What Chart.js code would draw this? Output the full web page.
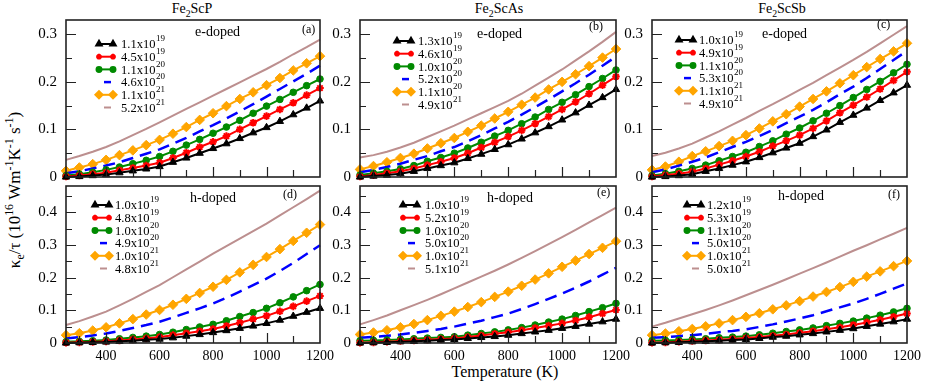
<!DOCTYPE html>
<html lang="en">
<head>
<meta charset="UTF-8">
<title>Electronic thermal conductivity of Fe2ScX</title>
<script src="https://cdn.jsdelivr.net/npm/chart.js"></script>
<style>
  body { margin: 0; background: #fff; }
  #fig { position: relative; width: 926px; height: 382px; overflow: hidden;
         font-family: "Liberation Serif", "Times New Roman", serif; color: #000; }
  #fig canvas { position: absolute; }
  .txt { position: absolute; white-space: nowrap; transform: translate(-50%, -50%); line-height: 1; }
  .txt sub, .txt sup { font-size: 70%; line-height: 0; }
  .ttl { font-size: 14px; top: 9px; }
</style>
</head>
<body>
<div id="fig">
  <div class="txt ttl" style="left:192px">Fe<sub>2</sub>ScP</div>
  <div class="txt ttl" style="left:499px">Fe<sub>2</sub>ScAs</div>
  <div class="txt ttl" style="left:782px">Fe<sub>2</sub>ScSb</div>
  <div class="txt" style="left:14px; top:190px; font-size:17px; transform: translate(-50%,-50%) rotate(-90deg);">
    κ<sub>e</sub>/τ (10<sup>16</sup> Wm<sup>-1</sup>K<sup>-1</sup> s<sup>-1</sup>)</div>
  <div class="txt" style="left:505px; top:372px; font-size:16px;">Temperature (K)</div>
  <canvas id="pa"></canvas><canvas id="pb"></canvas><canvas id="pc"></canvas>
  <canvas id="pd"></canvas><canvas id="pe"></canvas><canvas id="pf"></canvas>
</div>

<script>
// temperatures (K) shared by every curve
const temps = [250,300,350,400,450,500,550,600,650,700,750,800,850,900,950,1000,1050,1100,1150,1200];
const xTicks = [400, 600, 800, 1000, 1200];
const yTicksTop = [0, 0.1, 0.2, 0.3];
const yTicksBottom = [0, 0.1, 0.2, 0.3, 0.4];

// (a) Fe2ScP, e-doped
const aLabels = ['1.1x10^19','4.5x10^19','1.1x10^20','4.6x10^20','1.1x10^21','5.2x10^21'];
const aBlack  = [0,.001,.003,.005,.009,.013,.017,.022,.031,.040,.050,.060,.070,.081,.093,.104,.117,.131,.145,.160];
const aRed    = [.001,.003,.006,.009,.014,.019,.024,.030,.040,.051,.063,.074,.086,.100,.114,.128,.142,.156,.172,.187];
const aGreen  = [.003,.006,.010,.015,.021,.028,.035,.043,.054,.067,.079,.092,.105,.119,.134,.149,.163,.178,.192,.206];
const aBlue   = [.008,.012,.018,.024,.031,.040,.049,.058,.070,.082,.096,.109,.123,.138,.153,.169,.185,.201,.217,.234];
const aOrange = [.013,.020,.027,.036,.046,.056,.067,.078,.091,.105,.120,.134,.149,.164,.178,.193,.208,.224,.239,.254];
const aBrown  = [.036,.044,.053,.063,.075,.088,.101,.115,.129,.143,.157,.171,.185,.199,.213,.227,.242,.258,.273,.289];

// (b) Fe2ScAs, e-doped
const bLabels = ['1.3x10^19','4.6x10^19','1.0x10^20','5.2x10^20','1.1x10^20','4.9x10^21'];
const bBlack  = [0,.002,.004,.007,.012,.018,.024,.030,.039,.048,.058,.068,.080,.093,.106,.120,.135,.151,.167,.184];
const bRed    = [.001,.004,.008,.012,.018,.025,.032,.040,.050,.062,.073,.085,.098,.112,.127,.142,.158,.175,.193,.211];
const bGreen  = [.004,.008,.012,.017,.024,.033,.041,.050,.061,.073,.086,.098,.112,.126,.142,.157,.173,.190,.207,.225];
const bBlue   = [.010,.015,.021,.028,.036,.044,.054,.063,.075,.088,.102,.116,.131,.147,.163,.180,.197,.215,.234,.253];
const bOrange = [.016,.023,.031,.040,.049,.060,.071,.082,.095,.108,.123,.137,.152,.167,.184,.200,.216,.233,.251,.269];
const bBrown  = [.041,.046,.053,.062,.072,.084,.096,.108,.121,.134,.147,.160,.175,.192,.209,.226,.245,.264,.284,.305];

// (c) Fe2ScSb, e-doped
const cLabels = ['1.0x10^19','4.9x10^19','1.1x10^20','5.3x10^20','1.1x10^21','4.9x10^21'];
const cBlack  = [0,.001,.003,.006,.012,.018,.025,.032,.041,.051,.061,.071,.085,.099,.115,.130,.145,.161,.177,.193];
const cRed    = [.001,.004,.007,.011,.018,.026,.034,.043,.053,.065,.076,.088,.102,.118,.135,.151,.168,.185,.203,.221];
const cGreen  = [.003,.007,.012,.018,.025,.034,.043,.052,.064,.076,.090,.103,.118,.134,.150,.167,.184,.201,.219,.237];
const cBlue   = [.010,.016,.024,.032,.041,.052,.063,.074,.086,.099,.113,.127,.141,.157,.174,.190,.208,.227,.246,.265];
const cOrange = [.015,.022,.032,.044,.054,.065,.076,.088,.102,.117,.132,.148,.164,.180,.197,.214,.231,.248,.264,.281];
const cBrown  = [.044,.051,.060,.070,.083,.096,.110,.124,.139,.153,.168,.183,.198,.214,.230,.246,.263,.281,.299,.317];

// (d) Fe2ScP, h-doped
const dLabels = ['1.0x10^19','4.8x10^19','1.0x10^20','4.9x10^20','1.0x10^21','4.8x10^21'];
const dBlack  = [0,.001,.002,.003,.005,.007,.010,.012,.016,.021,.026,.032,.038,.045,.052,.060,.070,.082,.094,.106];
const dRed    = [.001,.002,.003,.005,.008,.011,.014,.018,.024,.030,.036,.043,.052,.062,.073,.083,.097,.112,.128,.144];
const dGreen  = [.004,.005,.007,.009,.013,.017,.021,.026,.033,.041,.049,.057,.068,.081,.093,.106,.123,.141,.160,.179];
const dBlue   = [.014,.018,.023,.029,.037,.046,.055,.065,.078,.092,.106,.121,.138,.157,.177,.197,.220,.245,.272,.299];
const dOrange = [.024,.030,.038,.048,.060,.073,.087,.101,.117,.135,.153,.172,.193,.216,.239,.263,.287,.312,.337,.362];
const dBrown  = [.055,.067,.081,.096,.115,.135,.156,.177,.201,.225,.249,.273,.296,.319,.342,.365,.390,.415,.440,.466];

// (e) Fe2ScAs, h-doped
const eLabels = ['1.0x10^19','5.2x10^19','1.0x10^20','5.0x10^20','1.0x10^21','5.1x10^21'];
const eBlack  = [0,.001,.002,.004,.005,.007,.009,.011,.014,.017,.020,.024,.029,.034,.039,.045,.051,.058,.065,.073];
const eRed    = [.001,.002,.004,.006,.008,.010,.012,.014,.018,.023,.028,.033,.039,.046,.053,.060,.069,.079,.090,.101];
const eGreen  = [.007,.008,.009,.011,.013,.015,.017,.019,.024,.029,.034,.040,.047,.055,.064,.073,.084,.096,.108,.121];
const eBlue   = [.016,.019,.022,.026,.031,.037,.043,.050,.059,.068,.079,.090,.104,.119,.135,.151,.169,.188,.209,.230];
const eOrange = [.026,.032,.039,.048,.058,.070,.083,.096,.110,.125,.141,.157,.175,.194,.213,.233,.252,.272,.291,.311];
const eBrown  = [.057,.070,.084,.100,.116,.132,.149,.167,.185,.203,.221,.240,.260,.281,.302,.324,.346,.369,.391,.414];

// (f) Fe2ScSb, h-doped
const fLabels = ['1.2x10^19','5.3x10^19','1.1x10^20','5.0x10^20','1.0x10^21','5.0x10^21'];
const fBlack  = [0,.001,.002,.004,.005,.007,.009,.011,.014,.018,.021,.025,.029,.034,.039,.044,.051,.058,.065,.073];
const fRed    = [.001,.002,.004,.006,.008,.010,.012,.015,.018,.022,.026,.031,.036,.042,.048,.055,.063,.071,.080,.090];
const fGreen  = [.007,.008,.009,.011,.013,.016,.018,.021,.025,.030,.035,.040,.046,.053,.060,.067,.076,.085,.095,.106];
const fBlue   = [.016,.018,.021,.024,.028,.033,.037,.042,.049,.057,.066,.075,.085,.097,.109,.121,.135,.150,.166,.182];
const fOrange = [.024,.029,.036,.043,.051,.060,.070,.080,.091,.103,.115,.128,.142,.156,.171,.187,.203,.219,.235,.251];
const fBrown  = [.050,.062,.075,.088,.101,.115,.130,.146,.162,.178,.195,.212,.229,.246,.264,.282,.299,.317,.334,.352];

// look of the six curves (same in every panel)
const looks = [
  { color: '#000000', point: 'triangle', r: 4.2 },
  { color: '#ff0000', point: 'star',     r: 3.8 },
  { color: '#008a00', point: 'circle',   r: 3.3 },
  { color: '#0000ff', point: null, dash: [12, 7], w: 2.5 },
  { color: '#ffa500', point: 'rectRot',  r: 4.8 },
  { color: '#bc8f8f', point: null, w: 2 }
];

// panel placement: chart area in page pixels, legend / note offsets inside it
const panels = [
  { id: 'pa', series: [aBlack,aRed,aGreen,aBlue,aOrange,aBrown], labels: aLabels, top: true,
    box: [66, 20, 320, 177], leg: [31, 55, 24], note: ['e-doped', 129, 12], tag: ['(a)', 236, 10] },
  { id: 'pb', series: [bBlack,bRed,bGreen,bBlue,bOrange,bBrown], labels: bLabels, top: true,
    box: [360, 20, 616, 177], leg: [35, 58, 21], note: ['e-doped', 117, 14], tag: ['(b)', 229, 7] },
  { id: 'pc', series: [cBlack,cRed,cGreen,cBlue,cOrange,cBrown], labels: cLabels, top: true,
    box: [652, 20, 907, 177], leg: [25, 47, 20], note: ['e-doped', 110, 14], tag: ['(c)', 225, 5] },
  { id: 'pd', series: [dBlack,dRed,dGreen,dBlue,dOrange,dBrown], labels: dLabels, top: false,
    box: [66, 186, 320, 343], leg: [27, 49, 19], note: ['h-doped', 124, 12], tag: ['(d)', 217, 9] },
  { id: 'pe', series: [eBlack,eRed,eGreen,eBlue,eOrange,eBrown], labels: eLabels, top: false,
    box: [360, 186, 616, 343], leg: [41, 65, 19], note: ['h-doped', 127, 12], tag: ['(e)', 237, 7] },
  { id: 'pf', series: [fBlack,fRed,fGreen,fBlue,fOrange,fBrown], labels: fLabels, top: false,
    box: [652, 186, 907, 343], leg: [33, 55, 19], note: ['h-doped', 126, 10], tag: ['(f)', 236, 9] }
];

const SERIF = '"Liberation Serif", "Times New Roman", serif';
const LEFT = 46, RIGHT = 18, TOP = 8;

// frame, inward ticks, legend and notes (xmgrace look)
const decor = {
  id: 'decor',
  afterDatasetsDraw(chart, args, o) {
    const { ctx, chartArea: a, scales: { x, y } } = chart;
    ctx.save();
    ctx.strokeStyle = '#222';
    ctx.lineWidth = 1.2;
    ctx.beginPath();
    for (let t = 300; t < 1200; t += 100) {
      const px = Math.round(x.getPixelForValue(t)) + 0.5;
      const len = t % 200 === 0 ? 10 : 7;
      ctx.moveTo(px, a.bottom); ctx.lineTo(px, a.bottom - len);
    }
    for (let k = 1; k * 0.05 < y.max; k++) {
      const py = Math.round(y.getPixelForValue(k * 0.05)) + 0.5;
      const len = k % 2 === 0 ? 10 : 6;
      ctx.moveTo(a.left, py); ctx.lineTo(a.left + len, py);
    }
    ctx.stroke();
    ctx.lineWidth = 1.6;
    ctx.strokeRect(a.left, a.top, a.right - a.left, a.bottom - a.top);
    ctx.restore();
  },
  afterDraw(chart, args, o) {
    const { ctx, chartArea: a } = chart;
    ctx.save();
    o.labels.forEach((lab, k) => {
      const s = looks[k];
      const yy = a.top + o.leg[2] + k * 12.7;
      const x0 = a.left + o.leg[0], x1 = x0 + 18;
      ctx.strokeStyle = s.color; ctx.fillStyle = s.color;
      if (s.point) {
        ctx.lineWidth = 2;
        ctx.beginPath(); ctx.moveTo(x0, yy); ctx.lineTo(x1, yy); ctx.stroke();
        const opt = { pointStyle: s.point, radius: s.r * 0.75, borderWidth: s.point === 'star' ? 2 : 1, rotation: 0 };
        Chart.helpers.drawPoint(ctx, opt, x0 + 2, yy);
        Chart.helpers.drawPoint(ctx, opt, x1 - 2, yy);
      } else {
        ctx.lineWidth = s.w;
        const xm = (x0 + x1) / 2 + 1;
        ctx.beginPath(); ctx.moveTo(xm - 3, yy); ctx.lineTo(xm + 4, yy); ctx.stroke();
      }
      const [base, exp] = lab.split('^');
      ctx.fillStyle = '#000';
      ctx.textAlign = 'left'; ctx.textBaseline = 'middle';
      ctx.font = '12.5px ' + SERIF;
      ctx.fillText(base, a.left + o.leg[1], yy + 1);
      const w = ctx.measureText(base).width;
      ctx.font = '9px ' + SERIF;
      ctx.fillText(exp, a.left + o.leg[1] + w + 0.5, yy - 5);
    });
    ctx.fillStyle = '#000';
    ctx.textAlign = 'left'; ctx.textBaseline = 'middle';
    ctx.font = '14px ' + SERIF;
    ctx.fillText(o.note[0], a.left + o.note[1], a.top + o.note[2]);
    ctx.font = '12px ' + SERIF;
    ctx.fillText(o.tag[0], a.left + o.tag[1], a.top + o.tag[2]);
    ctx.restore();
  }
};

function makeSet(vals, k) {
  const s = looks[k];
  return {
    data: temps.map((t, i) => ({ x: t, y: vals[i] })),
    borderColor: s.color,
    backgroundColor: s.color,
    borderWidth: s.point ? 2 : s.w,
    borderDash: s.dash || [],
    pointStyle: s.point || 'circle',
    pointRadius: s.point ? s.r : 0,
    pointHoverRadius: 0,
    pointBorderWidth: s.point === 'star' ? 2 : 1,
    tension: 0,
    clip: false
  };
}

panels.forEach(p => {
  const [L, T, R, B] = p.box;
  const bottom = p.top ? 9 : 30;
  const cv = document.getElementById(p.id);
  cv.width = R - L + LEFT + RIGHT;
  cv.height = B - T + TOP + bottom;
  cv.style.left = (L - LEFT) + 'px';
  cv.style.top = (T - TOP) + 'px';
  const yTicks = p.top ? yTicksTop : yTicksBottom;

  new Chart(cv, {
    type: 'line',
    data: { datasets: p.series.map(makeSet) },
    options: {
      responsive: false,
      animation: false,
      devicePixelRatio: 1,
      layout: { padding: { left: 0, right: RIGHT, top: TOP, bottom: 0 } },
      plugins: {
        legend: { display: false },
        tooltip: { enabled: false },
        decor: { labels: p.labels, leg: p.leg, note: p.note, tag: p.tag }
      },
      scales: {
        x: {
          type: 'linear', min: 250, max: 1200,
          grid: { display: false, drawTicks: false },
          border: { display: false },
          ticks: { display: !p.top, padding: 5, color: '#000', font: { family: SERIF, size: 14 },
                   maxRotation: 0, callback: v => String(v) },
          afterBuildTicks: s => { s.ticks = xTicks.map(v => ({ value: v })); },
          afterFit: s => { s.height = bottom; s.paddingLeft = 0; s.paddingRight = 0; }
        },
        y: {
          type: 'linear', min: 0, max: p.top ? 0.33 : 0.48,
          grid: { display: false, drawTicks: false },
          border: { display: false },
          ticks: { padding: 9, color: '#000', font: { family: SERIF, size: 15 },
                   callback: v => v === 0 ? '0' : v.toFixed(1) },
          afterBuildTicks: s => { s.ticks = yTicks.map(v => ({ value: v })); },
          afterFit: s => { s.width = LEFT; s.paddingTop = 0; s.paddingBottom = 0; }
        }
      }
    },
    plugins: [decor]
  });
});
</script>
</body>
</html>
